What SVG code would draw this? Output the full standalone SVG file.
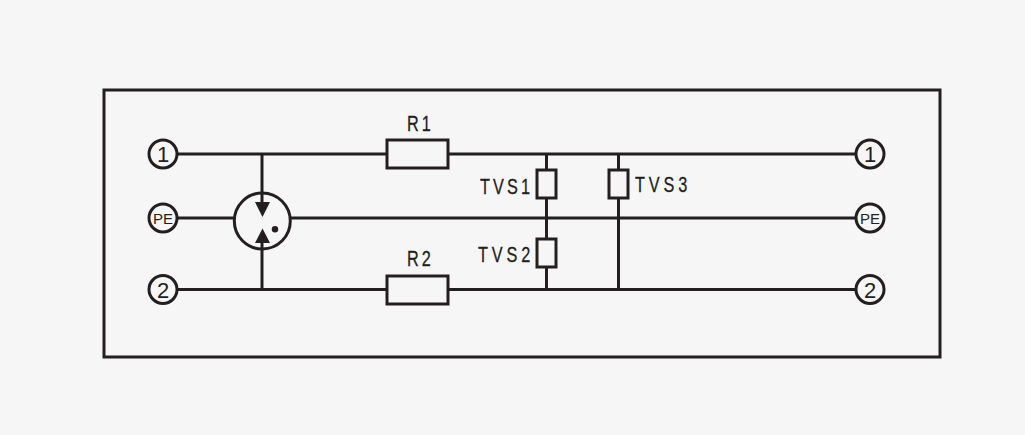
<svg xmlns="http://www.w3.org/2000/svg" width="1025" height="435" viewBox="0 0 1025 435">
<style>
.w{fill:none;stroke:#231f20;stroke-width:3}
.b{fill:#f6f6f6;stroke:#231f20;stroke-width:3}
.p{fill:#231f20}
.t{font-family:"Liberation Sans",Arial,sans-serif;fill:#231f20;text-anchor:middle}
.n{font-size:22px}
.e{font-size:15px}
.l{font-family:"Liberation Sans",Arial,sans-serif;fill:#231f20;stroke:#231f20;stroke-width:.3;font-size:22px;letter-spacing:4.200px}
.s{letter-spacing:5.200px}
</style>
<rect width="1025" height="435" fill="#f6f6f6"/>
<rect id="frame" x="104" y="90" width="836" height="267" class="w"/>
<g id="connectors">
<path class="w" d="M163 154H870M163 218H234M290 218H870M163 289.500H870"/>
<path class="w" d="M262 154V205M262 289.500V238"/>
<path class="w" d="M546.500 154V289.500M618.500 154V289.500"/>
</g>
<g id="gdt">
<circle class="w" cx="262.300" cy="221" r="28"/>
<path class="p" d="M255 202H270L262.500 217ZM255 243H270L262.500 228.500Z"/>
<circle class="p" cx="275" cy="229.300" r="3.200"/>
</g>
<g id="R1"><rect class="b" x="387" y="140" width="61" height="28"/><text class="l" transform="translate(407 130.500) scale(.74 1)">R1</text></g>
<g id="R2"><rect class="b" x="387" y="276" width="61" height="28"/><text class="l" transform="translate(407 265.500) scale(.74 1)">R2</text></g>
<g id="TVS1"><rect class="b" x="537" y="170" width="19" height="28"/><text class="l" transform="translate(480 193.500) scale(.74 1)">TVS1</text></g>
<g id="TVS2"><rect class="b" x="537" y="239" width="19" height="28"/><text class="l s" transform="translate(478 261.800) scale(.74 1)">TVS2</text></g>
<g id="TVS3"><rect class="b" x="609" y="170" width="19" height="28"/><text class="l s" transform="translate(635 191.700) scale(.74 1)">TVS3</text></g>
<g id="L1"><circle class="b" cx="163" cy="154" r="14"/><text class="t n" x="163" y="161.500">1</text></g>
<g id="LPE"><circle class="b" cx="163" cy="218" r="14"/><text class="t e" x="163" y="223.500">PE</text></g>
<g id="L2"><circle class="b" cx="163" cy="289.500" r="14"/><text class="t n" x="163" y="297.500">2</text></g>
<g id="R1T"><circle class="b" cx="870" cy="154" r="14"/><text class="t n" x="870" y="161.500">1</text></g>
<g id="RPE"><circle class="b" cx="870" cy="218" r="14"/><text class="t e" x="870" y="223.500">PE</text></g>
<g id="R2T"><circle class="b" cx="870" cy="289.500" r="14"/><text class="t n" x="870" y="297.500">2</text></g>
</svg>
